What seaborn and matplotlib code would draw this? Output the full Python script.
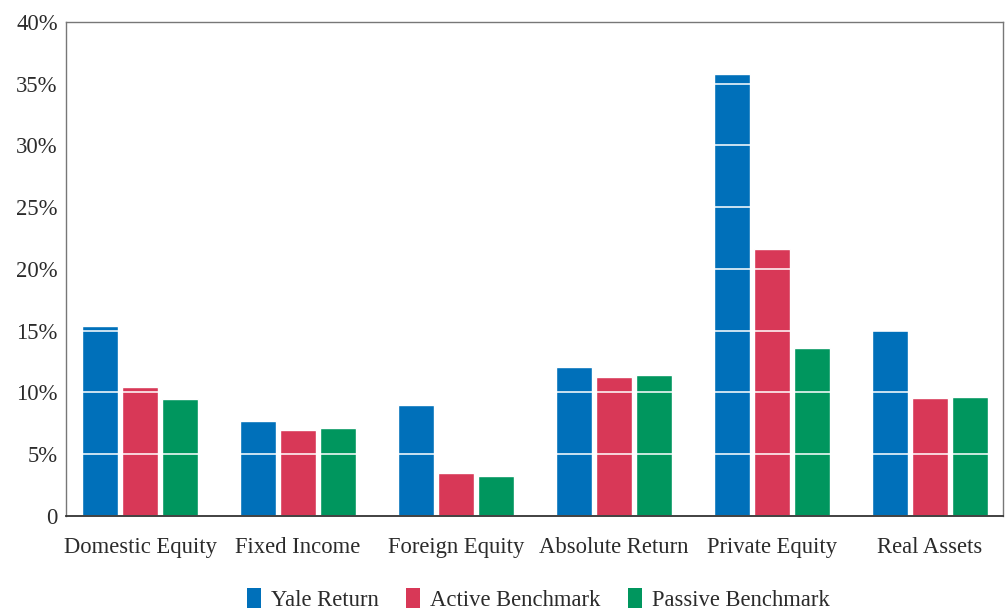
import pandas as pd
import matplotlib.pyplot as plt
import seaborn as sns
from matplotlib.patches import Patch

categories = ['Domestic Equity', 'Fixed Income', 'Foreign Equity',
              'Absolute Return', 'Private Equity', 'Real Assets']
series_names = ['Yale Return', 'Active Benchmark', 'Passive Benchmark']
yale_return = [15.4, 7.7, 9.0, 12.05, 35.8, 15.05]
active_benchmark = [10.45, 6.95, 3.5, 11.25, 21.6, 9.55]
passive_benchmark = [9.5, 7.1, 3.25, 11.4, 13.6, 9.65]
y_ticks = [0, 5, 10, 15, 20, 25, 30, 35, 40]
y_tick_labels = ['0', '5%', '10%', '15%', '20%', '25%', '30%', '35%', '40%']

COLORS = ['#0070BA', '#D83857', '#00965E']
TEXT = '#2b2b2b'

rows = []
for name, values in zip(series_names, [yale_return, active_benchmark, passive_benchmark]):
    for cat, v in zip(categories, values):
        rows.append({'Category': cat, 'Series': name, 'Return': v})
df = pd.DataFrame(rows)

sns.set_theme(style='white')
plt.rcParams['font.family'] = ['Liberation Serif', 'DejaVu Serif']

fig = plt.figure(figsize=(10.08, 6.14), dpi=100)
ax = fig.add_axes([0.0655, 0.1596, 0.9295, 0.8046])

sns.barplot(data=df, x='Category', y='Return', hue='Series', order=categories,
            hue_order=series_names, palette=COLORS, width=0.76, gap=0.1,
            saturation=1, errorbar=None, legend=False, ax=ax)

ax.set_xlim(-0.47, 5.465)
ax.set_ylim(0, 40)
ax.set_yticks(y_ticks)
ax.set_yticklabels(y_tick_labels)
ax.set_xlabel('')
ax.set_ylabel('')
ax.tick_params(axis='both', length=0, labelsize=16.3, colors=TEXT)
ax.tick_params(axis='x', pad=15)
ax.tick_params(axis='y', pad=6)

# white grid lines drawn over the bars, spines kept on top
ax.set_axisbelow(False)
ax.yaxis.grid(True, color='white', linewidth=1.3, alpha=0.85)
ax.xaxis.grid(False)

for side in ['left', 'top', 'right']:
    ax.spines[side].set_color('#777777')
    ax.spines[side].set_linewidth(1.0)
ax.spines['bottom'].set_color('#333333')
ax.spines['bottom'].set_linewidth(1.3)
for sp in ax.spines.values():
    sp.set_zorder(5)

handles = [Patch(facecolor=c, edgecolor='none', label=n) for c, n in zip(COLORS, series_names)]
fig.legend(handles=handles, loc='lower center', bbox_to_anchor=(0.534, -0.028),
           ncol=3, frameon=False, fontsize=16.3, handlelength=0.62, handleheight=1.0,
           handletextpad=0.45, columnspacing=1.2, labelcolor=TEXT)

fig.savefig('out.png', dpi=100)
